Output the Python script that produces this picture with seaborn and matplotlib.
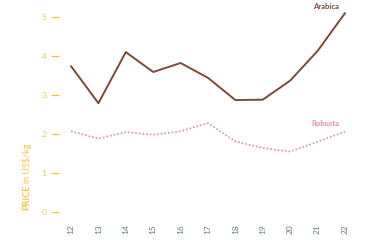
import matplotlib
matplotlib.use("Agg")
import matplotlib.pyplot as plt
import seaborn as sns
import pandas as pd

years = [12, 13, 14, 15, 16, 17, 18, 19, 20, 21, 22]
arabica = [3.74, 2.79, 4.10, 3.59, 3.82, 3.44, 2.87, 2.88, 3.37, 4.13, 5.10]
robusta = [2.07, 1.88, 2.05, 1.98, 2.07, 2.28, 1.81, 1.64, 1.55, 1.80, 2.06]
yticks = [0, 1, 2, 3, 4, 5]

sns.set_theme(style="white")
plt.rcParams['font.family'] = ['Lato', 'DejaVu Sans']

BROWN = "#7b4a36"
PINK = "#e98aa8"
YELLOW = "#f5c445"
GRAY = "#5f7d7a"

df = pd.DataFrame({
    "year": years * 2,
    "price": arabica + robusta,
    "type": ["Arabica"] * len(years) + ["Robusta"] * len(years),
})

fig = plt.figure(figsize=(3.75, 2.4), dpi=100)
ax = fig.add_axes([59 / 375, 28 / 240, 301 / 375, 206.7 / 240])

sns.lineplot(data=df[df.type == "Arabica"], x="year", y="price", ax=ax,
             color=BROWN, linewidth=1.4, legend=False)
sns.lineplot(data=df[df.type == "Robusta"], x="year", y="price", ax=ax,
             color=PINK, linewidth=1.2, linestyle=(0, (1, 1.2)), legend=False)

ax.set_xlim(11.562, 22.547)
ax.set_ylim(0, 5.3)
ax.set_xticks(years)
ax.set_xticklabels([str(y) for y in years], rotation=90, fontsize=6, color=GRAY)
ax.set_yticks(yticks)
ax.set_yticklabels([str(y) for y in yticks], fontsize=6, color=YELLOW)
ax.tick_params(axis='x', length=0, pad=9)
ax.tick_params(axis='y', length=6, width=0.9, color=YELLOW, pad=3, left=True)
for s in ax.spines.values():
    s.set_visible(False)
ax.set_xlabel("")
ax.set_ylabel("")

ax.text(22 - 0.7, 5.27, "Arabica", color=BROWN, fontsize=5.5, fontweight='bold',
        ha='center', va='center')
ax.text(22 - 0.7, 2.28, "Robusta", color=PINK, fontsize=5.5, fontweight='bold',
        ha='center', va='center')

x0 = 27 / 375
y0 = (240 - 210) / 240
t1 = fig.text(x0, y0, "PRICE", rotation=90, fontsize=6.5, fontweight='bold',
              color=YELLOW, ha='center', va='bottom')
fig.canvas.draw()
bb = t1.get_window_extent(fig.canvas.get_renderer())
y1 = bb.y1 / fig.bbox.height
fig.text(x0, y1 + 0.008, "in US$/kg", rotation=90, fontsize=6.5, color=YELLOW,
         ha='center', va='bottom')

fig.savefig("out.png", dpi=100)
